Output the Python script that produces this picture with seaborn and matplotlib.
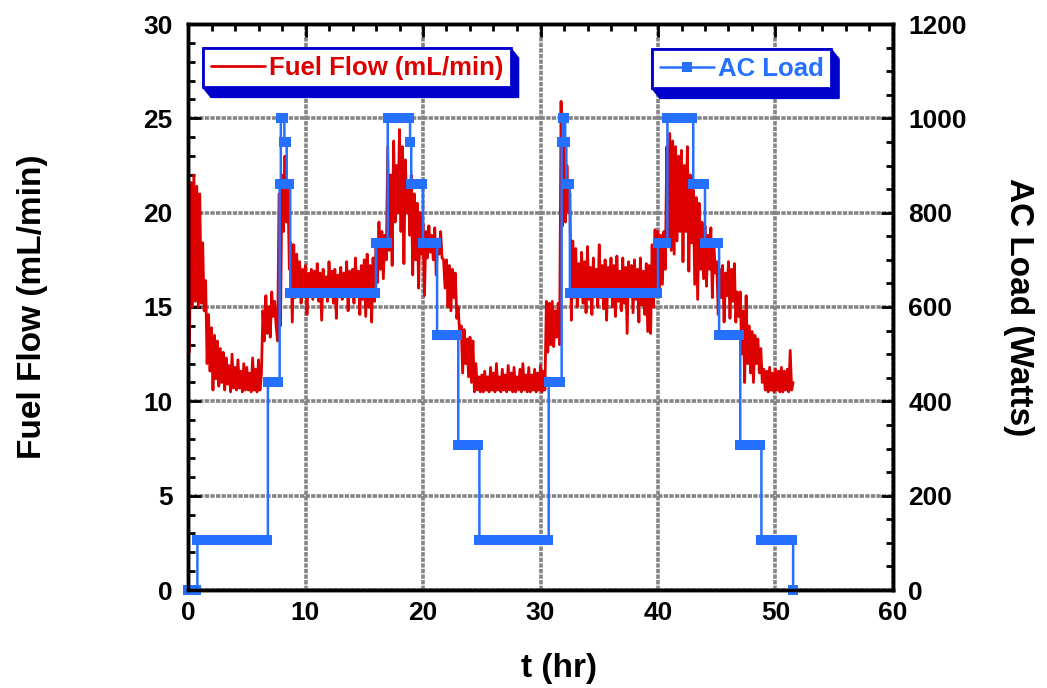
import numpy as np
import pandas as pd
import matplotlib
matplotlib.use("Agg")
import matplotlib.pyplot as plt
import seaborn as sns
from matplotlib.patches import Polygon
from matplotlib.ticker import MultipleLocator

# ---------------- data ----------------
fuel_t_step = 0.125  # hr between fuel-flow samples, starting at t = 0
fuel_flow = [
    22.0, 12.6, 21.6, 15.0, 22.0, 15.3, 21.4, 15.0,   # 0-1
    21.0, 15.2, 18.4, 14.8, 16.4, 12.0, 14.6, 11.6,   # 1-2
    13.9, 10.6, 13.5, 11.2, 13.2, 10.8, 12.8, 11.0,   # 2-3
    12.6, 10.6, 12.3, 10.9, 11.9, 10.5, 12.5, 10.7,   # 3-4
    11.8, 10.6, 12.2, 10.7, 11.6, 10.5, 12.0, 10.6,   # 4-5
    11.8, 10.6, 11.5, 10.5, 12.3, 10.6, 11.7, 10.5,   # 5-6
    12.2, 10.6, 11.5, 14.8, 13.2, 15.6, 13.6, 15.0,   # 6-7
    13.4, 15.8, 14.5, 15.3, 14.0, 13.2, 21.0, 14.0,   # 7-8
    22.0, 19.0, 23.0, 19.5, 21.5, 17.0, 18.4, 14.2,   # 8-9
    18.3, 15.5, 17.8, 16.0, 17.4, 15.2, 17.0, 15.6,   # 9-10
    17.2, 14.6, 16.8, 15.6, 17.0, 15.4, 16.9, 15.8,   # 10-11
    17.3, 15.3, 16.8, 14.3, 17.0, 15.7, 16.6, 15.3,   # 11-12
    17.4, 15.8, 16.9, 15.2, 17.0, 14.4, 16.7, 15.6,   # 12-13
    17.1, 15.4, 16.8, 15.6, 17.4, 14.8, 16.9, 15.7,   # 13-14
    17.0, 15.2, 17.6, 15.8, 16.9, 14.6, 17.2, 15.4,   # 14-15
    17.5, 14.5, 17.8, 15.0, 17.2, 14.2, 17.6, 15.3,   # 15-16
    18.5, 16.3, 19.5, 17.0, 19.0, 16.5, 18.8, 17.5,   # 16-17
    23.5, 18.0, 22.0, 17.2, 23.8, 19.5, 22.5, 20.0,   # 17-18
    24.4, 19.0, 23.5, 17.3, 22.8, 20.0, 21.5, 18.8,   # 18-19
    22.0, 16.7, 21.0, 17.5, 20.5, 16.0, 20.0, 17.8,   # 19-20
    19.4, 15.6, 19.0, 17.6, 19.3, 17.9, 18.8, 17.5,   # 20-21
    19.2, 16.7, 18.6, 17.8, 19.0, 17.6, 17.5, 16.0,   # 21-22
    17.5, 15.0, 17.2, 14.8, 17.0, 15.5, 16.8, 14.4,   # 22-23
    15.0, 13.5, 14.0, 11.5, 13.8, 12.0, 13.3, 11.3,   # 23-24
    13.4, 11.0, 13.2, 10.5, 12.0, 10.6, 11.3, 10.5,   # 24-25
    11.4, 10.5, 11.6, 10.6, 11.3, 10.5, 11.8, 10.6,   # 25-26
    11.5, 10.5, 12.0, 10.6, 11.3, 10.5, 11.7, 10.6,   # 26-27
    11.4, 10.5, 11.9, 10.6, 11.5, 10.5, 11.8, 10.5,   # 27-28
    11.3, 10.6, 11.7, 10.5, 12.0, 10.6, 11.4, 10.5,   # 28-29
    11.8, 10.5, 11.4, 10.6, 11.7, 10.5, 11.5, 10.6,   # 29-30
    11.9, 10.5, 11.6, 10.6, 15.3, 12.6, 15.2, 13.0,   # 30-31
    15.3, 12.9, 14.8, 13.4, 15.2, 13.0, 25.9, 19.3,   # 31-32
    23.5, 19.5, 22.5, 20.0, 21.0, 14.3, 18.5, 15.5,   # 32-33
    18.1, 15.0, 17.3, 15.8, 17.9, 15.2, 17.4, 14.7,   # 33-34
    18.2, 15.4, 17.1, 14.6, 17.6, 15.6, 17.0, 15.0,   # 34-35
    18.3, 15.5, 17.2, 14.9, 17.5, 14.3, 17.1, 15.6,   # 35-36
    17.6, 15.0, 17.2, 14.5, 17.7, 15.3, 16.9, 14.8,   # 36-37
    17.6, 15.2, 17.1, 13.6, 17.4, 15.6, 17.2, 14.7,   # 37-38
    17.5, 15.4, 17.0, 14.2, 17.6, 15.1, 16.9, 14.6,   # 38-39
    17.3, 13.7, 17.2, 13.6, 18.3, 15.0, 19.1, 15.9,   # 39-40
    19.0, 16.0, 18.8, 16.2, 19.0, 17.0, 23.5, 18.4,   # 40-41
    24.2, 18.0, 23.8, 17.8, 23.5, 18.5, 23.0, 19.0,   # 41-42
    23.3, 17.4, 22.5, 19.0, 23.5, 16.9, 22.0, 18.4,   # 42-43
    21.2, 16.2, 20.8, 15.4, 20.5, 17.0, 19.5, 16.5,   # 43-44
    19.3, 16.1, 18.8, 17.0, 19.2, 15.5, 18.5, 16.8,   # 44-45
    17.4, 14.6, 17.0, 15.5, 17.2, 14.2, 16.8, 15.6,   # 45-46
    17.4, 14.4, 17.0, 15.3, 17.3, 14.2, 15.8, 14.5,   # 46-47
    15.8, 12.5, 14.8, 11.0, 15.6, 12.0, 14.0, 11.5,   # 47-48
    13.7, 11.0, 13.5, 12.0, 13.3, 11.5, 12.8, 11.0,   # 48-49
    11.7, 10.6, 11.6, 10.5, 11.8, 10.6, 11.5, 10.5,   # 49-50
    11.7, 10.6, 11.6, 10.5, 11.8, 10.5, 11.6, 10.6,   # 50-51
    11.7, 10.5, 12.7, 10.6, 11.0,                     # 51-51.5
]

# AC load: times (hr) where the load setting changes, and the setting (W)
ac_change_t = [0.0, 0.8, 6.8, 7.8, 7.9, 8.2, 8.4, 8.7, 16.0, 17.0, 18.9, 19.0,
               20.0, 21.2, 23.0, 24.8, 30.7, 31.8, 31.9, 32.1, 32.2, 32.5,
               40.0, 40.8, 43.0, 44.0, 45.2, 47.0, 48.8, 51.5]
ac_levels = [0, 105, 440, 860, 1000, 950, 860, 630, 735, 1000, 950, 860,
             735, 540, 307, 105, 440, 950, 1000, 950, 860, 630,
             735, 1000, 860, 735, 540, 307, 105, 0]
ac_log_step = 0.1  # hr between logged AC-load points

x_ticks = [0, 10, 20, 30, 40, 50, 60]
y_left_ticks = [0, 5, 10, 15, 20, 25, 30]
y_right_ticks = [0, 200, 400, 600, 800, 1000, 1200]

fuel_label = "Fuel Flow (mL/min)"
ac_label = "AC Load"
x_title = "t (hr)"
y_left_title = "Fuel Flow (mL/min)"
y_right_title = "AC Load (Watts)"

RED = "#DC0000"
BLUE = "#2670FF"
DARKBLUE = "#0000CC"

# ---------------- build tables ----------------
fuel_df = pd.DataFrame({"t": np.arange(len(fuel_flow)) * fuel_t_step,
                        "flow": fuel_flow})
ac_t, ac_w = [], []
for i, lvl in enumerate(ac_levels):
    start = ac_change_t[i]
    if i + 1 < len(ac_change_t):
        ts = np.arange(start, ac_change_t[i + 1] - 1e-9, ac_log_step)
    else:
        ts = np.array([start])
    ac_t.extend(ts.tolist())
    ac_w.extend([lvl] * len(ts))
ac_df = pd.DataFrame({"t": ac_t, "load": ac_w})

# ---------------- style ----------------
sns.set_theme(style="white")
plt.rcParams["font.family"] = ["Liberation Sans", "DejaVu Sans"]
plt.rcParams["font.weight"] = "bold"
plt.rcParams["axes.labelweight"] = "bold"

W, H = 1047, 688
fig = plt.figure(figsize=(W / 100, H / 100), dpi=100)
fig.patch.set_facecolor("white")
ax = fig.add_axes([188 / W, 1 - 590 / H, (893 - 188) / W, (590 - 24) / H])
ax2 = ax.twinx()

sns.lineplot(data=fuel_df, x="t", y="flow", ax=ax, color=RED, linewidth=2.0,
             estimator=None, sort=False, legend=False)
sns.lineplot(data=ac_df, x="t", y="load", ax=ax2, color=BLUE, linewidth=1.8,
             estimator=None, sort=False, legend=False, drawstyle="steps-post",
             marker="s", markersize=7, markeredgewidth=0, clip_on=False)

ax.set_xlim(x_ticks[0], x_ticks[-1])
ax.set_ylim(y_left_ticks[0], y_left_ticks[-1])
ax2.set_ylim(y_right_ticks[0], y_right_ticks[-1])
ax.set_xticks(x_ticks)
ax.set_yticks(y_left_ticks)
ax2.set_yticks(y_right_ticks)
ax.xaxis.set_minor_locator(MultipleLocator(2))
ax.yaxis.set_minor_locator(MultipleLocator(1))
ax2.yaxis.set_minor_locator(MultipleLocator(50))

ax.grid(True, which="major", color="#858585", linewidth=2.6,
        linestyle=(0, (1.2, 0.35)))
ax2.grid(False)
ax.set_axisbelow(True)

for a in (ax, ax2):
    for s in a.spines.values():
        s.set_color("black")
        s.set_linewidth(2.5)

ax.tick_params(axis="both", which="both", direction="in", color="black",
               width=2, top=True, right=False)
ax.tick_params(which="major", length=9)
ax.tick_params(which="minor", length=5)
ax.tick_params(axis="y", which="major", pad=11, labelsize=19)
ax.tick_params(axis="x", which="major", pad=8, labelsize=19)
ax2.tick_params(axis="y", which="both", direction="in", color="black",
                width=2, pad=11, labelsize=19)
ax2.tick_params(which="major", length=9)
ax2.tick_params(which="minor", length=5)
for lab in ax.get_xticklabels() + ax.get_yticklabels() + ax2.get_yticklabels():
    lab.set_fontweight("bold")
    lab.set_color("black")

ax.set_xlabel(x_title, fontsize=24, fontweight="bold", color="black")
ax.set_ylabel(y_left_title, fontsize=24, fontweight="bold", color="black")
ax2.set_ylabel(y_right_title, fontsize=24, fontweight="bold", color="black",
               rotation=270, verticalalignment="bottom")
ax.xaxis.set_label_coords((559 - 188) / 705, (590 - 653) / 566)
ax.yaxis.set_label_coords((48 - 188) / 705, 0.5)
ax2.yaxis.set_label_coords((1003 - 188) / 705, 0.5)

# ---------------- legends ----------------
fuel_line = ax.get_lines()[0]
ac_line = ax2.get_lines()[0]
leg_kw = dict(loc="upper left", bbox_transform=fig.transFigure,
              borderaxespad=0, frameon=True, fancybox=False,
              edgecolor=DARKBLUE, framealpha=1, facecolor="white",
              prop={"weight": "bold", "size": 18.5},
              handlelength=2.1, handletextpad=0.15, borderpad=0.3,
              numpoints=1)
leg1 = fig.legend([fuel_line], [fuel_label], bbox_to_anchor=(203 / W, 1 - 48 / H),
                  labelcolor=RED, **leg_kw)
leg2 = fig.legend([ac_line], [ac_label], bbox_to_anchor=(652 / W, 1 - 49 / H),
                  labelcolor=BLUE, **leg_kw)
for lg in (leg1, leg2):
    lg.get_frame().set_linewidth(2.0)
    lg.set_zorder(6)

fig.canvas.draw()
dx, dy = 8, 10
for lg in (leg1, leg2):
    bb = lg.get_frame().get_window_extent()
    x0, y0, x1, y1 = bb.x0, bb.y0, bb.x1, bb.y1
    pts = [(x0, y1), (x1, y1), (x1 + dx, y1 - dy), (x1 + dx, y0 - dy),
           (x0 + dx, y0 - dy), (x0, y0)]
    pts = [(px / W, py / H) for px, py in pts]
    fig.add_artist(Polygon(pts, closed=True, facecolor=DARKBLUE,
                           edgecolor=DARKBLUE, transform=fig.transFigure,
                           zorder=5.5))

fig.savefig("out.png", dpi=100, facecolor="white")
